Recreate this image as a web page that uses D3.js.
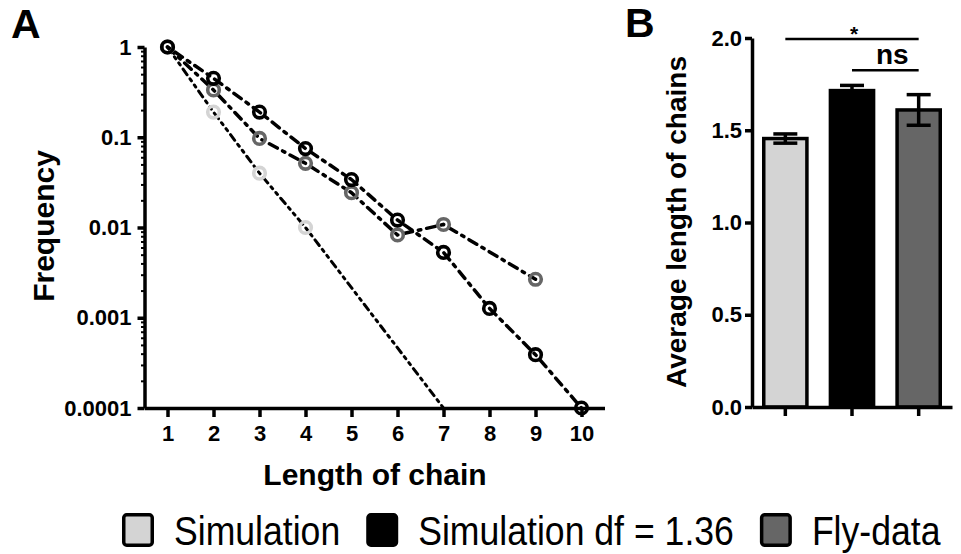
<!DOCTYPE html>
<html>
<head>
<meta charset="utf-8">
<script src="https://cdn.jsdelivr.net/npm/d3@7"></script>
<style>
  body { margin: 0; background: #fff; }
  svg { display: block; font-family: "Liberation Sans", Arial, Helvetica, sans-serif; }
</style>
</head>
<body>
<svg id="chart" width="961" height="554"></svg>
<script>
// Panel A: frequency of chain lengths (log y)
const lengths = [1, 2, 3, 4, 5, 6, 7, 8, 9, 10];
const simX = [1, 2, 3, 4];
const simY = [1, 0.19, 0.04, 0.01];
const simLineX = [1, 2, 3, 4, 7];          // trend continues down to 0.0001
const simLineY = [1, 0.19, 0.04, 0.01, 0.0001];
const dfX = [1, 2, 3, 4, 5, 6, 7, 8, 9, 10];
const dfY = [1, 0.45, 0.19, 0.075, 0.034, 0.0121, 0.0053, 0.00127, 0.00039, 0.0001];
const flyX = [1, 2, 3, 4, 5, 6, 7, 9];
const flyY = [1, 0.334, 0.097, 0.0514, 0.0243, 0.00826, 0.0108, 0.00267];
const yTicksA = [1, 0.1, 0.01, 0.001, 0.0001];
const yTickLabelsA = ["1", "0.1", "0.01", "0.001", "0.0001"];

// Panel B: average chain length
const groups = ["Simulation", "Simulation df = 1.36", "Fly-data"];
const means = [1.455, 1.715, 1.61];
const sems = [0.025, 0.028, 0.083];
const yTicksB = [0, 0.5, 1.0, 1.5, 2.0];
const sigPairs = [[0, 2], [1, 2]];
const sigLabels = ["*", "ns"];
const sigLevels = [1.995, 1.825];

const COLORS = ["#d4d4d4", "#000000", "#666666"];
const AXIS_W = 3.5;
const TICK_FONT = 22;

const svg = d3.select("#chart");

function styleAxis(g) {
    g.select(".domain").attr("stroke-width", AXIS_W);
    g.selectAll("line").attr("stroke-width", AXIS_W);
    g.selectAll("text").attr("font-size", TICK_FONT).attr("font-weight", "bold")
        .attr("font-family", "Liberation Sans, Arial, sans-serif").attr("fill", "#000");
}

// ---------- Panel A ----------
const xA = d3.scaleLinear().domain([0.5, 10.5]).range([144.5, 604.5]);
const yA = d3.scaleLog().domain([0.0001, 1]).range([408, 47]);

svg.append("text").attr("x", 11).attr("y", 38)
    .attr("font-size", 41).attr("font-weight", "bold").text("A");

// minor log ticks
const minor = [];
for (let e = -4; e < 0; e++) for (let m = 2; m <= 9; m++) minor.push(m * Math.pow(10, e));
const gMinor = svg.append("g").attr("transform", `translate(${xA.range()[0]},0)`)
    .call(d3.axisLeft(yA).tickValues(minor).tickSize(3.5).tickSizeOuter(0).tickFormat(""));
gMinor.select(".domain").remove();
gMinor.selectAll("line").attr("stroke-width", 2);

const gyA = svg.append("g").attr("transform", `translate(${xA.range()[0]},0)`)
    .call(d3.axisLeft(yA).tickValues(yTicksA).tickSize(7).tickSizeOuter(0).tickPadding(6)
        .tickFormat((d, i) => yTickLabelsA[i]));
styleAxis(gyA);

const gxA = svg.append("g").attr("transform", `translate(0,${yA.range()[0]})`)
    .call(d3.axisBottom(xA).tickValues(lengths).tickSize(9).tickSizeOuter(0).tickPadding(8));
styleAxis(gxA);

svg.append("text").attr("x", 375).attr("y", 485).attr("text-anchor", "middle")
    .attr("font-size", 30).attr("font-weight", "bold").text("Length of chain");
svg.append("text").attr("transform", "translate(54,226) rotate(-90)").attr("text-anchor", "middle")
    .attr("font-size", 30).attr("font-weight", "bold").text("Frequency");

const series = [
    { lx: simLineX, ly: simLineY, px: simX, py: simY, color: COLORS[0], dash: "7,5,2.5,5,2.5,5", w: 3 },
    { lx: flyX, ly: flyY, px: flyX, py: flyY, color: COLORS[2], dash: "9,6,2.5,6", w: 3.5 },
    { lx: dfX, ly: dfY, px: dfX, py: dfY, color: COLORS[1], dash: "3,6,9,6", w: 3.5 }
];
const line = d3.line().x(d => xA(d[0])).y(d => yA(d[1]));

series.forEach(s => {
    svg.append("path").datum(d3.zip(s.lx, s.ly)).attr("d", line)
        .attr("fill", "none").attr("stroke", "#000").attr("stroke-width", s.w)
        .attr("stroke-dasharray", s.dash).attr("stroke-linecap", "round");
});
series.forEach(s => {
    svg.append("g").selectAll("circle").data(d3.zip(s.px, s.py)).join("circle")
        .attr("cx", d => xA(d[0])).attr("cy", d => yA(d[1])).attr("r", 5.8)
        .attr("fill", "none").attr("stroke", s.color).attr("stroke-width", 3.6);
});

// ---------- Panel B ----------
const xB = d3.scaleBand().domain(d3.range(groups.length)).range([752, 952])
    .paddingInner(0.3).paddingOuter(0.15);
const yB = d3.scaleLinear().domain([0, 2]).range([407, 38]);

svg.append("text").attr("x", 625).attr("y", 37)
    .attr("font-size", 41).attr("font-weight", "bold").text("B");

const gyB = svg.append("g").attr("transform", `translate(752,0)`)
    .call(d3.axisLeft(yB).tickValues(yTicksB).tickSize(7).tickSizeOuter(0).tickPadding(3)
        .tickFormat(d3.format(".1f")));
styleAxis(gyB);

svg.append("text").attr("transform", "translate(686,222) rotate(-90)").attr("text-anchor", "middle")
    .attr("font-size", 28).attr("font-weight", "bold").text("Average length of chains");

// error bars (upper arm behind the bar outline)
const cap = 24;
groups.forEach((g, i) => {
    const cx = xB(i) + xB.bandwidth() / 2;
    const eg = svg.append("g").attr("stroke", "#000").attr("stroke-width", 3.5);
    eg.append("line").attr("x1", cx).attr("x2", cx).attr("y1", yB(means[i] + sems[i])).attr("y2", yB(means[i] - sems[i]));
    eg.append("line").attr("x1", cx - cap / 2).attr("x2", cx + cap / 2)
        .attr("y1", yB(means[i] + sems[i])).attr("y2", yB(means[i] + sems[i]));
});
svg.append("g").selectAll("rect").data(means).join("rect")
    .attr("x", (d, i) => xB(i) + 1.75).attr("width", xB.bandwidth() - 3.5)
    .attr("y", d => yB(d)).attr("height", d => yB(0) - yB(d))
    .attr("fill", (d, i) => COLORS[i]).attr("stroke", "#000").attr("stroke-width", 3.5);
// lower error arm drawn over bar
groups.forEach((g, i) => {
    const cx = xB(i) + xB.bandwidth() / 2;
    const eg = svg.append("g").attr("stroke", "#000").attr("stroke-width", 3.5);
    eg.append("line").attr("x1", cx).attr("x2", cx).attr("y1", yB(means[i])).attr("y2", yB(means[i] - sems[i]));
    eg.append("line").attr("x1", cx - cap / 2).attr("x2", cx + cap / 2)
        .attr("y1", yB(means[i] - sems[i])).attr("y2", yB(means[i] - sems[i]));
});

const gxB = svg.append("g").attr("transform", `translate(0,${yB(0)})`)
    .call(d3.axisBottom(xB).tickSize(9).tickSizeOuter(0).tickFormat(""));
styleAxis(gxB);

// significance brackets
sigPairs.forEach((p, i) => {
    const x1 = xB(p[0]) + xB.bandwidth() / 2, x2 = xB(p[1]) + xB.bandwidth() / 2;
    const y = yB(sigLevels[i]);
    svg.append("line").attr("x1", x1).attr("x2", x2).attr("y1", y).attr("y2", y)
        .attr("stroke", "#000").attr("stroke-width", 2.5);
    const big = sigLabels[i] !== "*";
    svg.append("text").attr("x", (x1 + x2) / 2 + (big ? 7 : 2)).attr("y", big ? y - 6 : y + 2)
        .attr("text-anchor", "middle").attr("font-weight", "bold")
        .attr("font-size", big ? 28 : 21).text(sigLabels[i]);
});

// ---------- Legend ----------
let lx = 122;
const legY = 513, sq = 32;
groups.forEach((g, i) => {
    svg.append("rect").attr("x", lx + 1.75).attr("y", legY + 1.75).attr("width", sq - 3.5).attr("height", sq - 1.5)
        .attr("rx", 3).attr("fill", COLORS[i]).attr("stroke", "#000").attr("stroke-width", 3.5);
    const t = svg.append("text").attr("x", lx + sq + 20).attr("y", 545)
        .attr("font-size", 40).attr("fill", "#000").text(g);
    const w = t.node().getComputedTextLength() * 0.89;
    t.attr("textLength", w).attr("lengthAdjust", "spacingAndGlyphs");
    lx += sq + 20 + w + 26;
});
</script>
</body>
</html>
